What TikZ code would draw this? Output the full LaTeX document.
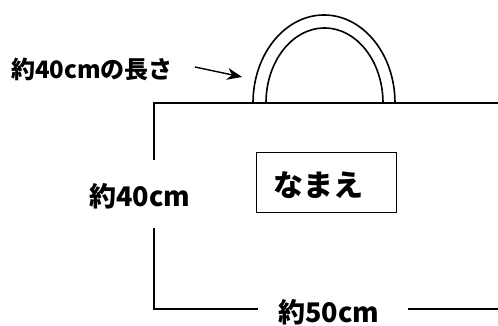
\documentclass[tikz,border=0pt]{standalone}
\usepackage{fontspec}
\newfontfamily\jp{Noto Sans CJK JP}
\usetikzlibrary{arrows.meta}
\tikzset{
  bagline/.style={line width=1.6pt},
  lbl/.style={font=\jp\bfseries\fontsize{27}{27}\selectfont, inner sep=0pt},
}
\begin{document}
\begin{tikzpicture}[x=1pt,y=1pt]
\useasboundingbox (0,0) rectangle (498,326);

% bag body
\coordinate (TL) at (154,223);
\coordinate (TR) at (498,223);
\coordinate (BL) at (154,17);
\coordinate (BR) at (498,17);

\draw[bagline] (TR) -- (TL) -- (154,166);
\draw[bagline] (154,98) -- (BL) -- (258,17);
\draw[bagline] (408,17) -- (BR);

% handle
\draw[bagline] (253,223) arc[start angle=180, end angle=0, x radius=71, y radius=88];
\draw[bagline] (266,223) arc[start angle=180, end angle=0, x radius=58.5, y radius=75];

% labels
\node[lbl] (side) at (140,130) {約40cm};
\node[lbl] (bottom) at (329,14) {約50cm};
\node[lbl, font=\jp\bfseries\fontsize{24}{24}\selectfont] (handlelen) at (92,257) {約40cmの長さ};

\coordinate (tip) at (242,249);
\draw[line width=1.4pt, -{Stealth[length=15pt,width=12pt]}] (195,259) -- (tip);

% name tag
\node[draw, line width=0.8pt, minimum width=140pt, minimum height=60pt, inner sep=0pt] (name) at (326,144) {};
\node[lbl, font=\jp\bfseries\fontsize{30}{30}\selectfont] (nametext) at (318,141) {なまえ};
\end{tikzpicture}
\end{document}
